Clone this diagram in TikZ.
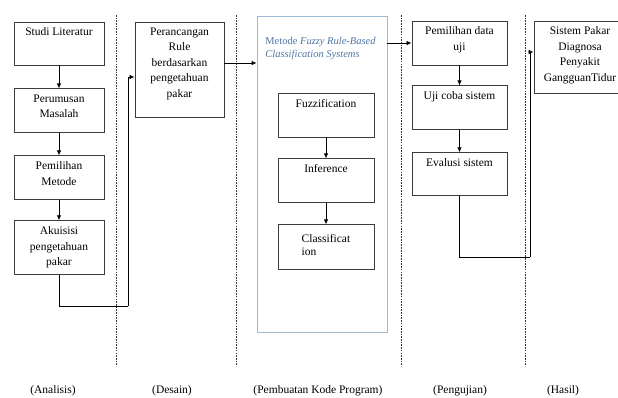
\documentclass[tikz,border=0pt]{standalone}
\usepackage{fontspec}
\setmainfont{Liberation Serif}
\usetikzlibrary{arrows.meta, calc, positioning}
\definecolor{boxGrey}{HTML}{3C3C3C}
\definecolor{sysBlue}{HTML}{9BBBD9}
\definecolor{sysText}{HTML}{4E75A6}
\definecolor{sepGrey}{HTML}{333333}
\tikzset{
  % thin lines and small filled tips, like the original flow chart
  every picture/.append style = {line width=0.8pt, >={Latex[length=5pt, width=4.5pt]}},
  stagebox/.style = {draw=boxGrey, line width=0.9pt, minimum width=90pt, inner sep=0pt},
  stage/.style    = {stagebox, label={[stagetxt, anchor=north]north:#1}},
  stageL/.style   = {stagebox, label={[stagetxt, anchor=north, align=left, inner ysep=10pt,
                     font=\fontsize{11.5}{12.5}\selectfont]north:#1}},
  stagetxt/.style = {font=\fontsize{11.5}{15.5}\selectfont, align=center,
                     inner xsep=2pt, inner ysep=6pt},
  flow/.style     = {->, black},
  link/.style     = {black},
  sep/.style      = {sepGrey, line width=0.9pt, dash pattern=on 1.6pt off 1.1pt},
  phase/.style    = {font=\fontsize{11.5}{14}\selectfont},
}

\begin{document}
\begin{tikzpicture}[x=1pt, y=-1pt]
\useasboundingbox (0,0) rectangle (618,398);
\clip (0,0) rectangle (618,398);

% ---- column separators ------------------------------------------------------
\foreach \sx in {116, 236, 401, 525}
  \draw[sep] (\sx,15) -- (\sx,366);

% ---- analisis -----------------------------------------------------------------
\node[stage={Studi Literatur}, minimum height=43pt] (studi) at (59,43.5) {};
\node[stage={Perumusan\\Masalah}, minimum height=44pt, below=23pt of studi] (rumus) {};
\node[stage={Pemilihan\\Metode}, minimum height=44pt, below=22pt of rumus] (pilih) {};
\node[stage={Akuisisi\\pengetahuan\\pakar}, minimum height=54pt, below=20pt of pilih] (akuisisi) {};
\draw[flow] (studi) -- (rumus);
\draw[flow] (rumus) -- (pilih);
\draw[flow] (pilih) -- (akuisisi);

% ---- desain -------------------------------------------------------------------
\node[stage={Perancangan\\Rule\\berdasarkan\\pengetahuan\\pakar}, minimum width=89pt,
      minimum height=95pt] (rancang) at (179.5,69.5) {};
\coordinate (riseA) at (128,306);
\draw[link] (akuisisi.south) |- (riseA);
\draw[flow] (riseA) |- ([yshift=-7.5pt]rancang.west);

% ---- pembuatan kode program ---------------------------------------------------
\node[draw=sysBlue, line width=0.8pt, minimum width=130pt, minimum height=316pt]
  (fuzzysys) at (322,174) {};
\node[anchor=north west, inner sep=0pt, align=left, text=sysText,
      font=\fontsize{10.5}{13}\selectfont] (metode) at (265,37)
  {Metode \textit{Fuzzy Rule-Based}\\\textit{Classification Systems}};
\node[stage={Fuzzification}, minimum width=96pt, minimum height=44pt] (fuzz) at (326,115) {};
\node[stage={Inference}, minimum width=96pt, minimum height=44pt, below=21pt of fuzz] (infer) {};
\node[stageL={Classificat\\ion}, minimum width=96pt, minimum height=45pt, below=21pt of infer] (classif) {};
\draw[flow] (fuzz) -- (infer);
\draw[flow] (infer) -- (classif);
\draw[flow] ([yshift=6.5pt]rancang.east) -- ([yshift=6.5pt]rancang.east -| fuzzysys.west);

% ---- pengujian ----------------------------------------------------------------
\node[stage={Pemilihan data\\uji}, minimum width=95pt, minimum height=44pt] (datauji) at (459.5,43) {};
\node[stage={Uji coba sistem}, minimum width=95pt, minimum height=44pt, below=20pt of datauji] (ujicoba) {};
\node[stage={Evalusi sistem}, minimum width=95pt, minimum height=43pt, below=22pt of ujicoba] (evalusi) {};
\draw[flow] (datauji) -- (ujicoba);
\draw[flow] (ujicoba) -- (evalusi);
\draw[flow] (fuzzysys.east |- datauji.west) -- (datauji.west);

% ---- hasil --------------------------------------------------------------------
\node[stage={Sistem Pakar\\Diagnosa\\Penyakit\\GangguanTidur}, minimum width=92pt,
      minimum height=72pt] (sistem) at (580,57) {};
\coordinate (riseB) at (530,257);
\draw[link] (evalusi.south) |- (riseB);
\draw[flow] (riseB) |- ([yshift=5pt]sistem.west);

% ---- phase names --------------------------------------------------------------
\node[phase] (analisis)  at (53,391)  {(Analisis)};
\node[phase] (desain)    at (172,391) {(Desain)};
\node[phase] (pembuatan) at (318,391) {(Pembuatan Kode Program)};
\node[phase] (pengujian) at (460,391) {(Pengujian)};
\node[phase] (hasil)     at (563,391) {(Hasil)};
\end{tikzpicture}
\end{document}
